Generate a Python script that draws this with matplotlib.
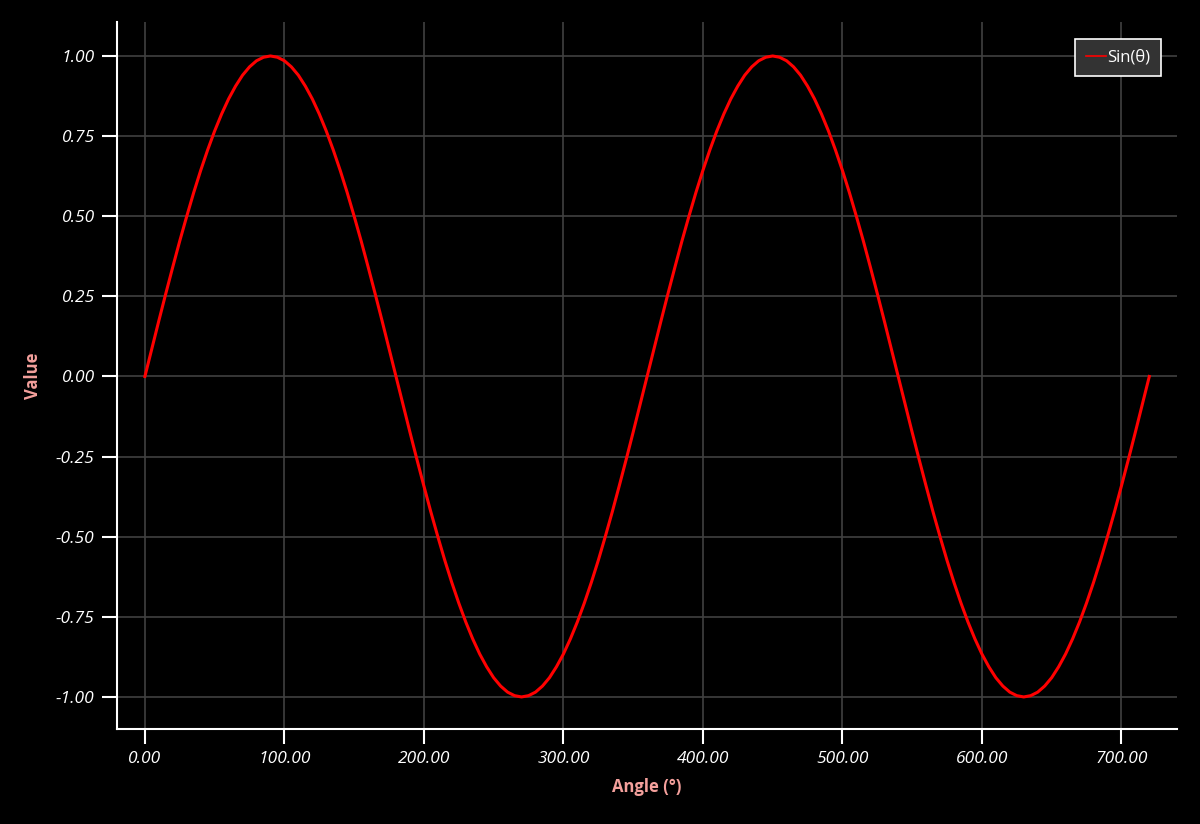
import matplotlib
matplotlib.use("Agg")
import matplotlib.pyplot as plt

# angle samples (degrees), every 5 degrees from 0 to 720
angles = list(range(0, 725, 5))
# values
values = [0.0, 0.087, 0.174, 0.259, 0.342, 0.423, 0.5, 0.574, 0.643, 0.707, 0.766, 0.819, 0.866, 0.906, 0.94, 0.966, 0.985, 0.996,
          1.0, 0.996, 0.985, 0.966, 0.94, 0.906, 0.866, 0.819, 0.766, 0.707, 0.643, 0.574, 0.5, 0.423, 0.342, 0.259, 0.174, 0.087,
          0.0, -0.087, -0.174, -0.259, -0.342, -0.423, -0.5, -0.574, -0.643, -0.707, -0.766, -0.819, -0.866, -0.906, -0.94, -0.966, -0.985, -0.996,
          -1.0, -0.996, -0.985, -0.966, -0.94, -0.906, -0.866, -0.819, -0.766, -0.707, -0.643, -0.574, -0.5, -0.423, -0.342, -0.259, -0.174, -0.087,
          0.0, 0.087, 0.174, 0.259, 0.342, 0.423, 0.5, 0.574, 0.643, 0.707, 0.766, 0.819, 0.866, 0.906, 0.94, 0.966, 0.985, 0.996,
          1.0, 0.996, 0.985, 0.966, 0.94, 0.906, 0.866, 0.819, 0.766, 0.707, 0.643, 0.574, 0.5, 0.423, 0.342, 0.259, 0.174, 0.087,
          0.0, -0.087, -0.174, -0.259, -0.342, -0.423, -0.5, -0.574, -0.643, -0.707, -0.766, -0.819, -0.866, -0.906, -0.94, -0.966, -0.985, -0.996,
          -1.0, -0.996, -0.985, -0.966, -0.94, -0.906, -0.866, -0.819, -0.766, -0.707, -0.643, -0.574, -0.5, -0.423, -0.342, -0.259, -0.174, -0.087,
          0.0]

x_ticks = [0, 100, 200, 300, 400, 500, 600, 700]
y_ticks = [-1.0, -0.75, -0.5, -0.25, 0.0, 0.25, 0.5, 0.75, 1.0]

plt.rcParams['font.family'] = ['Open Sans', 'DejaVu Sans']

fig = plt.figure(figsize=(12, 8.24), dpi=100, facecolor="black")
ax = fig.add_axes([0.0975, 0.1153, 0.8835, 0.858])
ax.set_facecolor("black")

ax.plot(angles, values, color="#ff0000", lw=2.2, label="Sin(θ)")

ax.set_xlim(-20, 740)
ax.set_ylim(-1.1, 1.106)
ax.set_xticks(x_ticks)
ax.set_yticks(y_ticks)
ax.set_xticklabels([f"{t:.2f}" for t in x_ticks], fontstyle="italic")
ax.set_yticklabels([f"{t:.2f}" for t in y_ticks], fontstyle="italic")
ax.tick_params(colors="white", labelsize=12.5, length=11, width=1.5, direction="out", pad=5)

ax.grid(True, color="#404040", lw=1.2)
ax.set_axisbelow(True)

for side in ["top", "right"]:
    ax.spines[side].set_visible(False)
for side in ["left", "bottom"]:
    ax.spines[side].set_color("white")
    ax.spines[side].set_linewidth(1.5)

ax.set_xlabel("Angle (°)", color="#f4a09c", fontweight="bold", fontsize=12, labelpad=8)
ax.set_ylabel("Value", color="#f4a09c", fontweight="bold", fontsize=12, labelpad=10)

leg = ax.legend(loc="upper right", fontsize=12, facecolor="#333333", edgecolor="white",
                labelcolor="white", fancybox=False, framealpha=1, handlelength=1.2,
                handletextpad=0.1, borderpad=0.65, bbox_to_anchor=(0.993, 0.988))
leg.get_frame().set_linewidth(1.2)
leg.get_lines()[0].set_linewidth(1.2)

fig.savefig("out.png", dpi=100, facecolor="black")
